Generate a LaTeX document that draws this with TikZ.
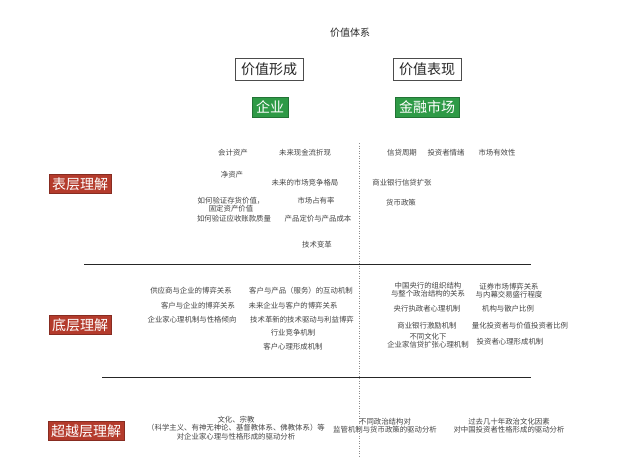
\documentclass[tikz,border=0pt]{standalone}
\usepackage{fontspec}
\newfontfamily\cjk{Noto Sans CJK SC}
\definecolor{gbox}{HTML}{2E9A46}
\definecolor{rbox}{HTML}{B43B2C}
\definecolor{txtc}{HTML}{444444}
\begin{document}
\begin{tikzpicture}[x=1pt,y=-1pt,
  txt/.style={font=\cjk\fontsize{7.4}{8.2}\selectfont, text=txtc, inner sep=0pt, align=center},
  ttl/.style={font=\cjk\fontsize{10}{12}\selectfont, text=black!85, inner sep=0pt},
  hdr/.style={draw=black!70, line width=0.6pt, font=\cjk\fontsize{14}{16}\selectfont, text=black!85, minimum width=68pt, minimum height=22pt, inner sep=0pt},
  gbx/.style={fill=gbox, draw=gbox!75!black, line width=0.4pt, font=\cjk\fontsize{14}{16}\selectfont, text=white, minimum height=20pt, inner xsep=4pt, inner ysep=0pt},
  rbx/.style={fill=rbox, draw=rbox!75!black, line width=0.4pt, font=\cjk\fontsize{14}{16}\selectfont, text=white, minimum height=19pt, inner xsep=3pt, inner ysep=0pt},
  sep/.style={draw=black!85, line width=0.8pt},
  vsep/.style={draw=black!45, line width=0.5pt, dotted}
]
\useasboundingbox (0,0) rectangle (644,466);
\fill[white] (0,0) rectangle (644,466);

% title and headers
\node[ttl] (title) at (350,33) {价值体系};
\node[hdr] (form) at (269,69) {价值形成};
\node[hdr] (expr) at (427,69) {价值表现};
\node[gbx] (ent) at (270,107) {企业};
\node[gbx] (fin) at (427,107) {金融市场};

% level labels
\node[rbx] (l1) at (80,184) {表层理解};
\node[rbx] (l2) at (80,325) {底层理解};
\node[rbx] (l3) at (86,431) {超越层理解};

% separators
\coordinate (s1a) at (84,264); \coordinate (s1b) at (531,264);
\coordinate (s2a) at (102,377); \coordinate (s2b) at (531,377);
\coordinate (va) at (359,143); \coordinate (vb) at (359,456);
\draw[sep] (s1a) -- (s1b);
\draw[sep] (s2a) -- (s2b);
\draw[vsep] (va) -- (vb);

% surface, left
\node[txt] (a1) at (233,153) {会计资产};
\node[txt] (a2) at (305,153) {未来现金流折现};
\node[txt] (a3) at (232,175) {净资产};
\node[txt] (a4) at (305,183) {未来的市场竞争格局};
\node[txt] (a5) at (231,205) {如何验证存货价值，\\固定资产价值};
\node[txt] (a6) at (316,201) {市场占有率};
\node[txt] (a7) at (234,219) {如何验证应收账款质量};
\node[txt] (a8) at (318,219) {产品定价与产品成本};
\node[txt] (a9) at (317,245) {技术变革};

% surface, right
\node[txt] (b1) at (402,153) {信贷周期};
\node[txt] (b2) at (446,153) {投资者情绪};
\node[txt] (b3) at (497,153) {市场有效性};
\node[txt] (b4) at (402,183) {商业银行信贷扩张};
\node[txt] (b5) at (401,203) {货币政策};

% deep, left
\node[txt] (c1) at (191,291) {供应商与企业的博弈关系};
\node[txt] (c2) at (301,291) {客户与产品（服务）的互动机制};
\node[txt] (c3) at (198,306) {客户与企业的博弈关系};
\node[txt] (c4) at (293,306) {未来企业与客户的博弈关系};
\node[txt] (c5) at (192,320) {企业家心理机制与性格倾向};
\node[txt] (c6) at (302,320) {技术革新的技术驱动与利益博弈};
\node[txt] (c7) at (293,333) {行业竞争机制};
\node[txt] (c8) at (293,347) {客户心理形成机制};

% deep, right
\node[txt] (d1) at (428,290) {中国央行的组织结构\\与整个政治结构的关系};
\node[txt] (d2) at (509,291) {证券市场博弈关系\\与内幕交易盛行程度};
\node[txt] (d3) at (427,309) {央行执政者心理机制};
\node[txt] (d4) at (508,309) {机构与散户比例};
\node[txt] (d5) at (427,326) {商业银行激励机制};
\node[txt] (d6) at (520,326) {量化投资者与价值投资者比例};
\node[txt] (d7) at (428,341) {不同文化下\\企业家信贷扩张心理机制};
\node[txt] (d8) at (510,342) {投资者心理形成机制};

% beyond
\node[txt] (e1) at (236,428) {文化、宗教\\（科学主义、有神无神论、基督教体系、佛教体系）等\\对企业家心理与性格形成的驱动分析};
\node[txt] (e2) at (385,426) {不同政治结构对\\监管机制与货币政策的驱动分析};
\node[txt] (e3) at (509,426) {过去几十年政治文化因素\\对中国投资者性格形成的驱动分析};
\end{tikzpicture}
\end{document}
